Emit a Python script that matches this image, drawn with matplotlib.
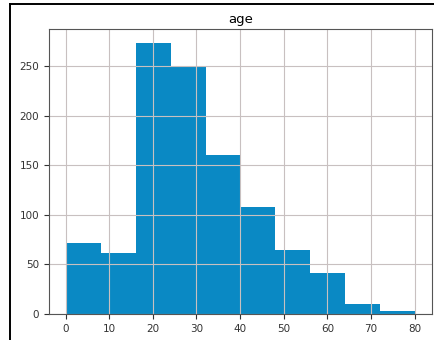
import numpy as np
import matplotlib
matplotlib.use("Agg")
import matplotlib.pyplot as plt
from matplotlib.lines import Line2D

# histogram of passenger age, 10 equal bins from 0.17 to 80
bin_lo = 0.17
bin_hi = 80.0
counts = [72, 62, 274, 250, 161, 108, 65, 41, 10, 3]
x_ticks = [0, 10, 20, 30, 40, 50, 60, 70, 80]
y_ticks = [0, 50, 100, 150, 200, 250]

edges = np.linspace(bin_lo, bin_hi, len(counts) + 1)

fig = plt.figure(figsize=(4.35, 3.4), dpi=100)
ax = fig.add_axes([0.1126, 0.0765, 0.8804, 0.8382])

ax.hist(edges[:-1], bins=edges, weights=counts, color="#0a89c4")
ax.grid(True, color="#c8c0c0", linewidth=0.8)
ax.set_title("age", fontsize=9.5, pad=4)
ax.set_xticks(x_ticks)
ax.set_yticks(y_ticks)
ax.tick_params(labelsize=7.5, colors="#333333", length=3.5)
for s in ax.spines.values():
    s.set_color("#555555")

# scan frame around the figure
fig.add_artist(Line2D([0.024, 0.024], [0.0, 0.987], color="black", lw=1.4))
fig.add_artist(Line2D([0.024, 1.0], [0.987, 0.987], color="black", lw=1.4))

fig.savefig("out.png", dpi=100)
